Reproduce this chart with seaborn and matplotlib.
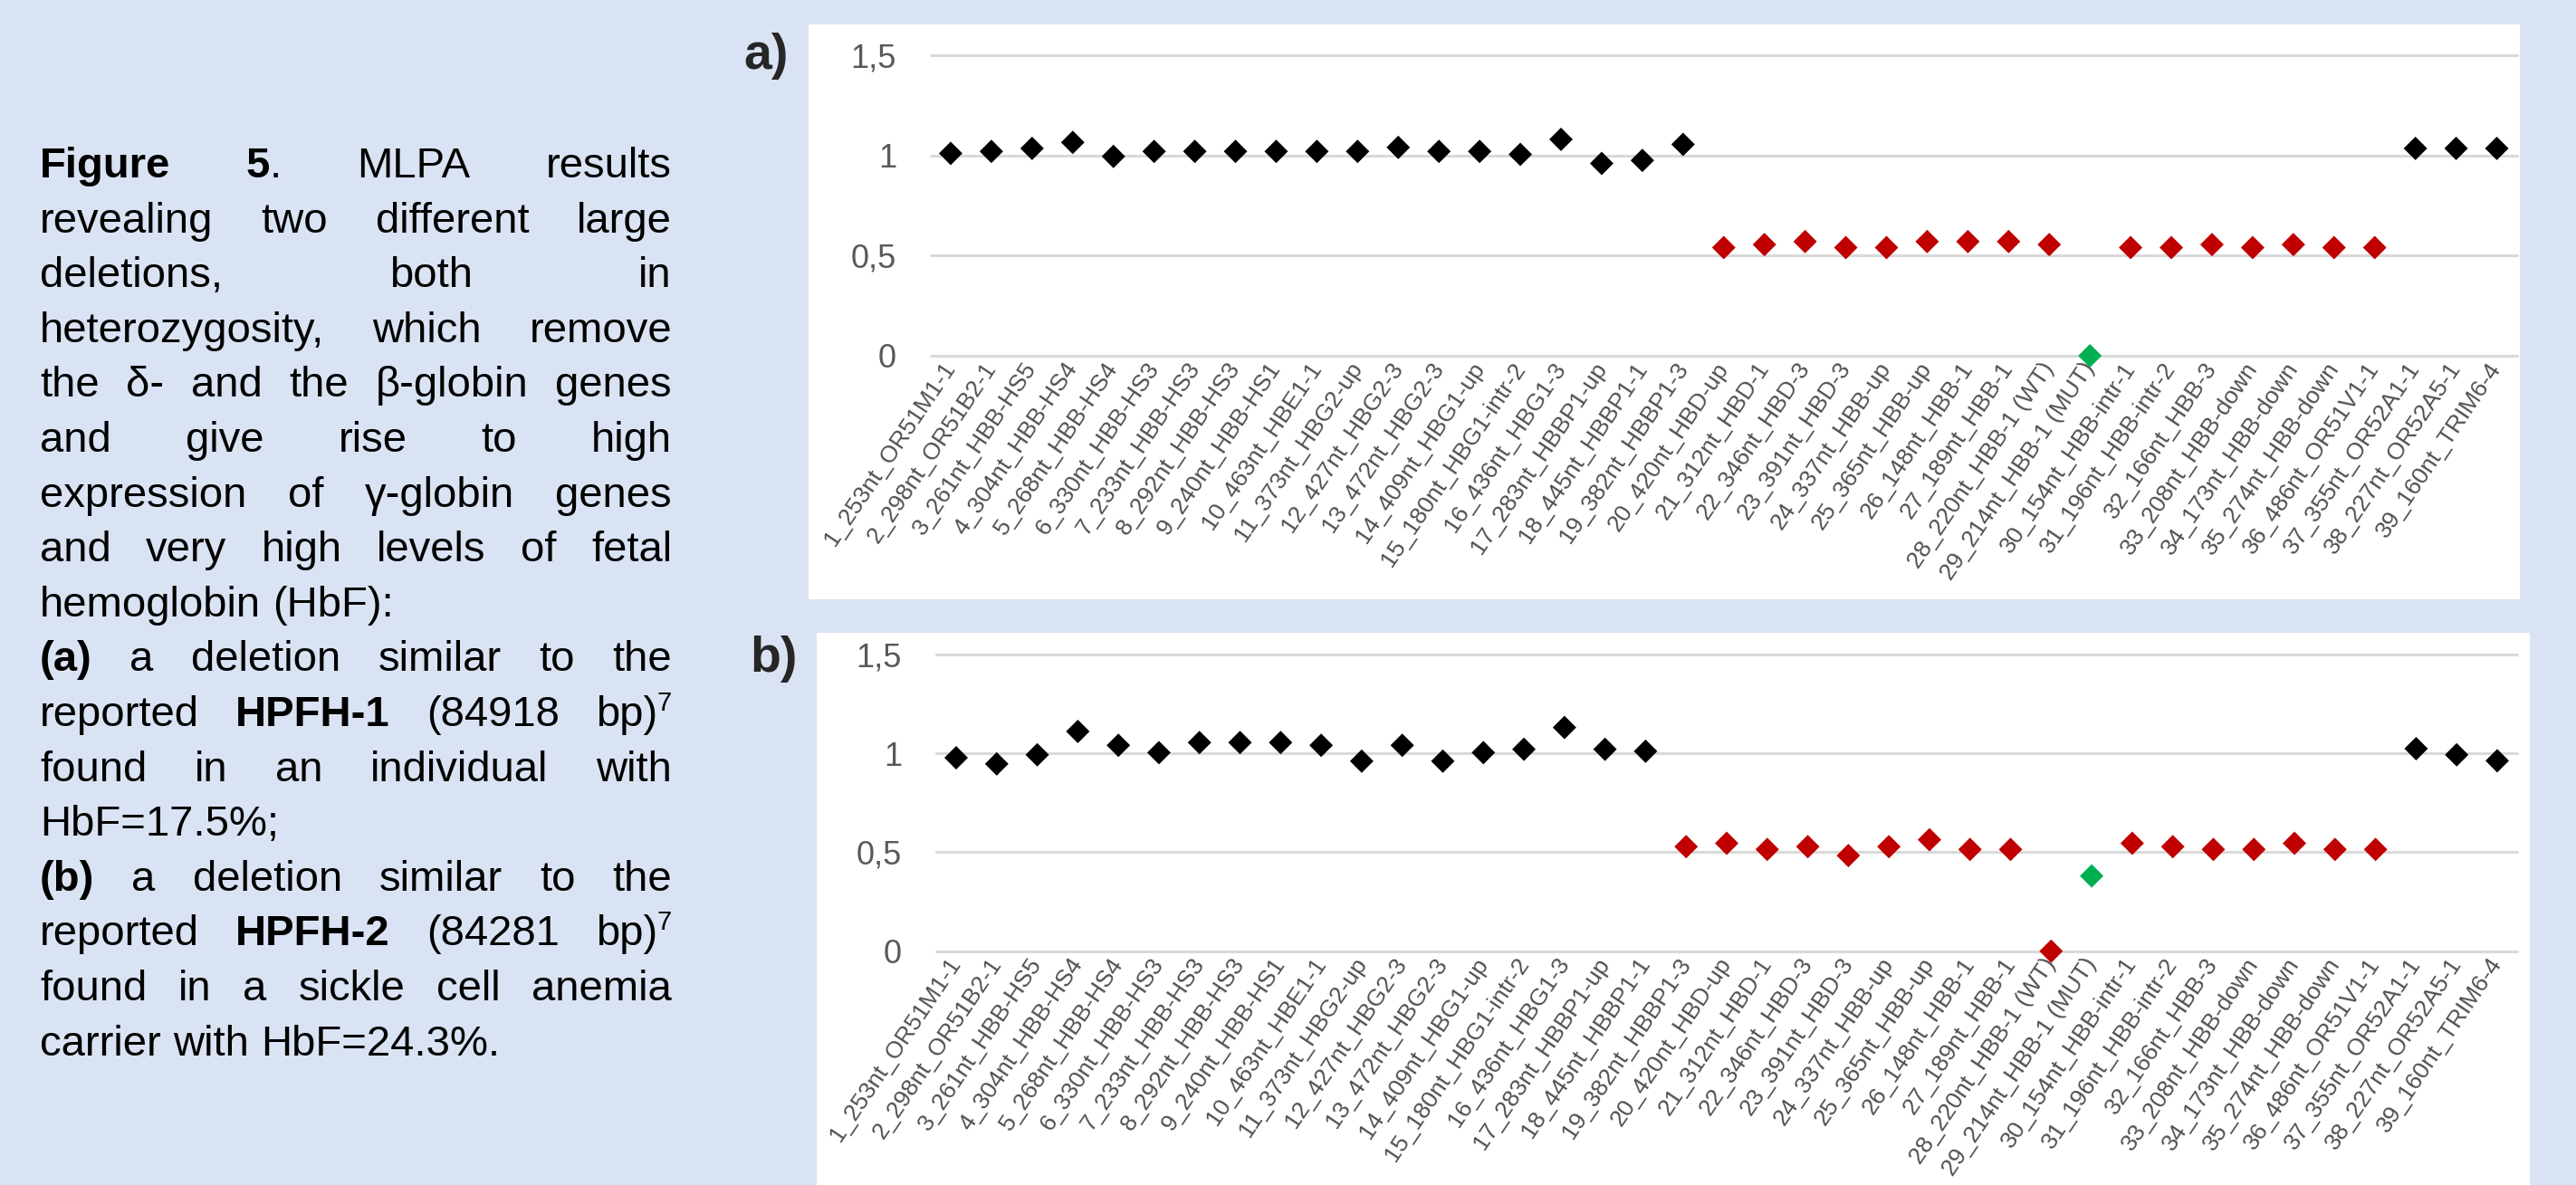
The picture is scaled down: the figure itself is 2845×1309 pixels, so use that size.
import matplotlib
matplotlib.use('Agg')
import matplotlib.pyplot as plt
import matplotlib.patches as mpatches
import seaborn as sns
import pandas as pd

# MLPA probes (x categories)
probes = ['1_253nt_OR51M1-1', '2_298nt_OR51B2-1', '3_261nt_HBB-HS5', '4_304nt_HBB-HS4',
          '5_268nt_HBB-HS4', '6_330nt_HBB-HS3', '7_233nt_HBB-HS3', '8_292nt_HBB-HS3',
          '9_240nt_HBB-HS1', '10_463nt_HBE1-1', '11_373nt_HBG2-up', '12_427nt_HBG2-3',
          '13_472nt_HBG2-3', '14_409nt_HBG1-up', '15_180nt_HBG1-intr-2', '16_436nt_HBG1-3',
          '17_283nt_HBBP1-up', '18_445nt_HBBP1-1', '19_382nt_HBBP1-3', '20_420nt_HBD-up',
          '21_312nt_HBD-1', '22_346nt_HBD-3', '23_391nt_HBD-3', '24_337nt_HBB-up',
          '25_365nt_HBB-up', '26_148nt_HBB-1', '27_189nt_HBB-1', '28_220nt_HBB-1 (WT)',
          '29_214nt_HBB-1 (MUT)', '30_154nt_HBB-intr-1', '31_196nt_HBB-intr-2', '32_166nt_HBB-3',
          '33_208nt_HBB-down', '34_173nt_HBB-down', '35_274nt_HBB-down', '36_486nt_OR51V1-1',
          '37_355nt_OR52A1-1', '38_227nt_OR52A5-1', '39_160nt_TRIM6-4']

# panel a) HPFH-1
ratio_a = [1.01, 1.02, 1.035, 1.065, 0.995, 1.02, 1.02, 1.02, 1.02, 1.02,
           1.02, 1.04, 1.02, 1.02, 1.005, 1.08, 0.96, 0.975, 1.055, 0.54,
           0.555, 0.57, 0.54, 0.54, 0.57, 0.57, 0.57, 0.555, 0.0, 0.54,
           0.54, 0.555, 0.54, 0.555, 0.54, 0.54, 1.035, 1.035, 1.035]
status_a = ['N', 'N', 'N', 'N', 'N', 'N', 'N', 'N', 'N', 'N',
            'N', 'N', 'N', 'N', 'N', 'N', 'N', 'N', 'N', 'D',
            'D', 'D', 'D', 'D', 'D', 'D', 'D', 'D', 'P', 'D',
            'D', 'D', 'D', 'D', 'D', 'D', 'N', 'N', 'N']

# panel b) HPFH-2
ratio_b = [0.977, 0.946, 0.992, 1.11, 1.04, 1.003, 1.054, 1.054, 1.054, 1.04,
           0.96, 1.04, 0.96, 1.003, 1.02, 1.13, 1.02, 1.01, 0.528, 0.545,
           0.514, 0.528, 0.483, 0.528, 0.563, 0.514, 0.514, 0.0, 0.38, 0.545,
           0.528, 0.514, 0.514, 0.545, 0.514, 0.514, 1.023, 0.992, 0.962]
status_b = ['N', 'N', 'N', 'N', 'N', 'N', 'N', 'N', 'N', 'N',
            'N', 'N', 'N', 'N', 'N', 'N', 'N', 'N', 'D', 'D',
            'D', 'D', 'D', 'D', 'D', 'D', 'D', 'D', 'P', 'D',
            'D', 'D', 'D', 'D', 'D', 'D', 'N', 'N', 'N']

yticks = [0, 0.5, 1, 1.5]
ytick_labels = ['0', '0,5', '1', '1,5']

caption_lines = [
    ([('Figure 5', 'b'), ('. MLPA results', 'n')], True),
    ([('revealing two different large', 'n')], True),
    ([('deletions, both in', 'n')], True),
    ([('heterozygosity, which remove', 'n')], True),
    ([('the δ- and the β-globin genes', 'n')], True),
    ([('and give rise to high', 'n')], True),
    ([('expression of γ-globin genes', 'n')], True),
    ([('and very high levels of fetal', 'n')], True),
    ([('hemoglobin (HbF):', 'n')], False),
    ([('(a)', 'b'), (' a deletion similar to the', 'n')], True),
    ([('reported ', 'n'), ('HPFH-1', 'b'), (' (84918 bp)', 'n'), ('7', 's')], True),
    ([('found in an individual with', 'n')], True),
    ([('HbF=17.5%;', 'n')], False),
    ([('(b)', 'b'), (' a deletion similar to the', 'n')], True),
    ([('reported ', 'n'), ('HPFH-2', 'b'), (' (84281 bp)', 'n'), ('7', 's')], True),
    ([('found in a sickle cell anemia', 'n')], True),
    ([('carrier with HbF=24.3%.', 'n')], False),
]

palette = {'N': '#000000', 'D': '#c00000', 'P': '#00b050'}
BG = '#dae3f3'
W, H = 2845, 1309

sns.set_style('white')
plt.rcParams['font.family'] = ['Liberation Sans Narrow', 'Liberation Sans', 'DejaVu Sans']

fig = plt.figure(figsize=(W / 100, H / 100), dpi=100, facecolor=BG)

# white chart boxes
for x0, y0, x1, y1 in [(893, 27, 2783, 662), (902, 699, 2794, 1309)]:
    fig.add_artist(mpatches.Rectangle((x0 / W, 1 - y1 / H), (x1 - x0) / W, (y1 - y0) / H,
                                      transform=fig.transFigure, facecolor='white',
                                      edgecolor='none', zorder=-5))


def panel(rect, ratios, status):
    ax = fig.add_axes(rect)
    ax.set_facecolor('none')
    df = pd.DataFrame({'pos': range(len(probes)), 'ratio': ratios, 'status': status})
    sns.scatterplot(data=df, x='pos', y='ratio', hue='status', palette=palette,
                    marker='D', s=175, edgecolor='none', legend=False, ax=ax,
                    zorder=5, clip_on=False)
    ax.set_xlim(-0.5, len(probes) - 0.5)
    ax.set_ylim(0, 1.5)
    ax.set_yticks(yticks)
    ax.set_yticklabels(ytick_labels)
    ax.set_xticks(range(len(probes)))
    ax.set_xticklabels(probes)
    ax.set_xlabel('')
    ax.set_ylabel('')
    ax.grid(axis='y', color='#d9d9d9', linewidth=2.2)
    ax.grid(axis='x', visible=False)
    for gl in ax.get_ygridlines():
        gl.set_clip_on(False)
    ax.set_axisbelow(True)
    sns.despine(ax=ax, left=True, bottom=True)
    ax.tick_params(axis='y', length=0, pad=27, labelsize=26, labelcolor='#595959')
    ax.tick_params(axis='x', length=0, pad=7, labelsize=19, labelcolor='#505050')
    for lab in ax.get_xticklabels():
        lab.set_rotation(56)
        lab.set_ha('right')
        lab.set_va('center')
        lab.set_rotation_mode('anchor')
    return ax


ax_a = panel([1027.5 / W, 1 - 393 / H, 1752.5 / W, 332 / H], ratio_a, status_a)
ax_b = panel([1033.6 / W, 1 - 1050.7 / H, 1746.8 / W, 328 / H], ratio_b, status_b)

fig.text(846 / W, 1 - 62 / H, 'a)', fontsize=40, fontweight='bold', ha='center', va='center')
fig.text(855 / W, 1 - 728 / H, 'b)', fontsize=40, fontweight='bold', ha='center', va='center')

# justified caption on the left
cap_font = ['Liberation Sans', 'DejaVu Sans']
cap_size = 34
em = cap_size * 100 / 72
left_px, right_px = 44, 742
base0, step = 196, 60.6
renderer = fig.canvas.get_renderer()

for li, (segs, justify) in enumerate(caption_lines):
    words = []
    new_word = True
    for text, style in segs:
        for i, part in enumerate(text.split(' ')):
            if i > 0:
                new_word = True
            if part == '':
                continue
            if new_word or not words:
                words.append([(part, style)])
            else:
                words[-1].append((part, style))
            new_word = False
    y = 1 - (base0 + li * step) / H
    items = []
    widths = []
    for word in words:
        parts = []
        wsum = 0
        for part, style in word:
            size = cap_size * 0.62 if style == 's' else cap_size
            t = fig.text(0, y, part, fontsize=size, family=cap_font,
                         fontweight='bold' if style == 'b' else 'normal',
                         ha='left', va='baseline', color='black')
            if style == 's':
                t.set_y(y + 0.36 * em / H)
            wpx = t.get_window_extent(renderer).width
            parts.append((t, wpx))
            wsum += wpx
        items.append(parts)
        widths.append(wsum)
    if justify and len(words) > 1:
        gap = (right_px - left_px - sum(widths)) / (len(words) - 1)
    else:
        gap = 0.278 * em
    x = left_px
    for parts, wsum in zip(items, widths):
        xx = x
        for t, wpx in parts:
            t.set_x(xx / W)
            xx += wpx
        x += wsum + gap

fig.savefig('out.png', dpi=100, facecolor=BG)
